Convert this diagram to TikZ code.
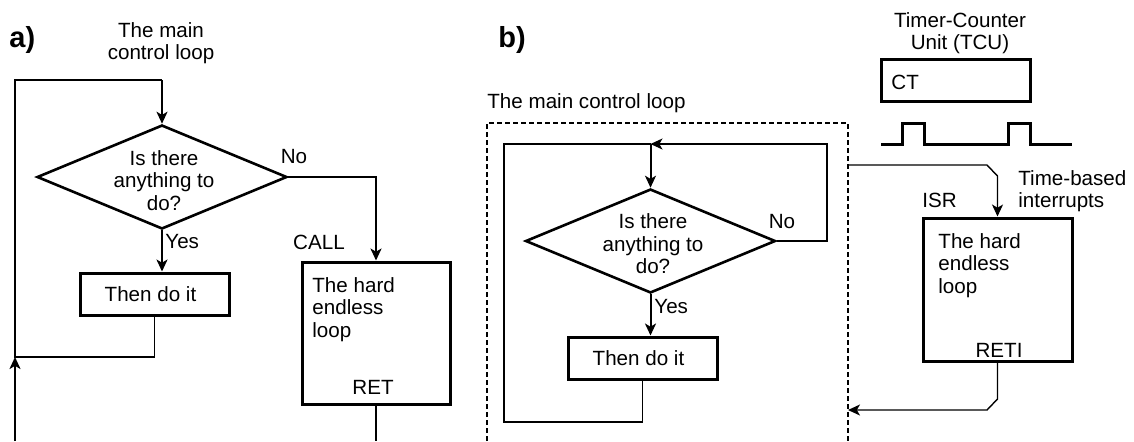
\documentclass[tikz,border=0pt]{standalone}
\usepackage{fontspec}
\setmainfont{Liberation Sans}
\usetikzlibrary{arrows.meta,shapes.geometric,calc}

\begin{document}
\begin{tikzpicture}[x=0.5pt,y=-0.5pt,
  font=\fontsize{10.3}{11.25}\selectfont,
  block/.style={draw,line width=1.5pt,inner sep=0pt},
  decision/.style={draw,diamond,line width=1.3pt,inner sep=0pt,
                   minimum width=125pt,minimum height=52pt},
  txt/.style={inner sep=0pt,align=center},
  ltxt/.style={inner sep=0pt,align=left,anchor=north west},
  caption/.style={inner sep=0pt,anchor=base west,font=\bfseries\fontsize{14.5}{16}\selectfont},
  thin/.style={line width=0.7pt},
  tip/.style={-{Stealth[length=6pt,width=5.5pt,inset=1.6pt]}},
  flow/.style={line width=1pt,tip},
  frame/.style={line width=0.7pt,dash pattern=on 2.6pt off 1.4pt},
  pulse/.style={line width=1.5pt,line join=miter}
]
\useasboundingbox (0,0) rectangle (1134,441);

% ---------------- a) polling loop with a called routine ----------------
\node[caption] (capa) at (9,47) {a)};
\node[txt,anchor=north] (titlea) at (161,22) {The main\\control loop};

\node[decision] (da) at (162,177) {};
\node[txt,anchor=north] (qa) at (164,150) {Is there\\anything to\\do?};
\node[block,minimum width=74.5pt,minimum height=21pt] (doa) at (154.5,294) {Then do it\hspace*{4pt}};
\node[block,minimum width=74pt,minimum height=71pt] (hla) at (376,333) {};
\node[ltxt] (hlta) at (312,277) {The hard\\endless\\loop};
\node[txt] (reta) at (373,387) {RET};
\node[txt] (calla) at (319,242) {CALL};
\node[txt] (noa) at (294,157) {No};
\node[txt,anchor=west] (yesa) at (165,242) {Yes};

\coordinate (a0) at (15,441);
\coordinate (aj) at (15,357);
\coordinate (atl) at (15,80);
\coordinate (atr) at (da.north |- atl);
\coordinate (aend) at (376,441);

\draw[flow] (a0) -- (aj);
\draw[thin] (doa.south) |- (aj) -- (atl) -- (atr);
\draw[flow] (atr) -- (da.north);
\draw[flow] (da.south) -- (da.south |- doa.north);
\draw[flow] (da.east) -| (hla.north);
\draw[thin] (hla.south) -- (aend);

% ---------------- b) polling loop with a timer interrupt ----------------
\node[caption] (capb) at (498,47) {b)};
\node[txt,anchor=base west] (titleb) at (487,108) {The main control loop};

\coordinate (fl) at (487,441);
\coordinate (ftl) at (487,123);
\coordinate (ftr) at (848,123);
\coordinate (fr) at (848,441);
\draw[frame] (fl) -- (ftl) -- (ftr) -- (fr);

\node[decision] (db) at (650.5,241) {};
\node[txt,anchor=north] (qb) at (653,213.5) {Is there\\anything to\\do?};
\node[block,minimum width=74.5pt,minimum height=21pt] (dob) at (642.5,358) {Then do it\hspace*{4pt}};
\node[txt] (nob) at (782,222) {No};
\node[txt,anchor=west] (yesb) at (654,307) {Yes};

\coordinate (bjn) at (650.5,144);
\coordinate (bnr) at (827,144);
\coordinate (bll) at (504,422);

\draw[thin,tip] (db.east) -| (bnr) -- (bjn);
\draw[thin] (dob.south) |- (bll) |- (bjn);
\draw[flow] (bjn) -- (db.north);
\draw[flow] (db.south) -- (db.south |- dob.north);

% timer-counter unit and its output pulses
\node[txt,anchor=north] (tcu) at (960,12) {Timer-Counter\\Unit (TCU)};
\node[block,minimum width=74.5pt,minimum height=21pt] (ct) at (955.5,80) {};
\node[txt,anchor=west] (ctl) at (891,82) {CT};
\draw[pulse] (881,144) -- (902,144) -- (902,123) -- (924,123) -- (924,144)
  -- (1008,144) -- (1008,123) -- (1030,123) -- (1030,144) -- (1072,144);

% interrupt service routine
\node[block,minimum width=74.5pt,minimum height=71.5pt] (isr) at (997.5,289.5) {};
\node[ltxt] (isrt) at (938,233) {The hard\\endless\\loop};
\node[txt] (reti) at (999,350) {RETI};
\node[txt] (isrl) at (939.5,200) {ISR};
\node[ltxt] (tbi) at (1018,170) {Time-based\\interrupts};

\coordinate (ir0) at (848,165);
\coordinate (ir1) at (987,165);
\coordinate (ir2) at (isr.north |- 0,176);
\draw[thin,tip] (ir0) -- (ir1) -- (ir2) -- (isr.north);

\coordinate (rt1) at (isr.south |- 0,399);
\coordinate (rt2) at (987,410);
\coordinate (rt3) at (848,410);
\draw[thin,tip] (isr.south) -- (rt1) -- (rt2) -- (rt3);

\end{tikzpicture}
\end{document}
